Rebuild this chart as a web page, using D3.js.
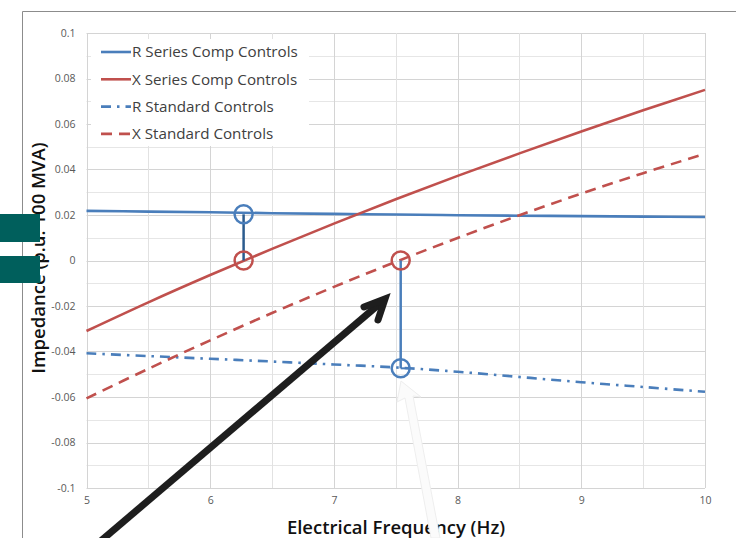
<!DOCTYPE html>
<html><head><meta charset="utf-8">
<script src="https://cdn.jsdelivr.net/npm/d3@7"></script>
<style>html,body{margin:0;padding:0;background:#fff;}svg{display:block;font-family:"Open Sans",sans-serif;}</style>
</head><body>
<svg id="chart" width="736" height="538"></svg>
<script>
const freq = [5, 5.5, 6, 6.5, 7, 7.5, 8, 8.5, 9, 9.5, 10];
const rSeriesComp = [0.0218, 0.0215, 0.0212, 0.0208, 0.0205, 0.0202, 0.0199, 0.0197, 0.0195, 0.0193, 0.0191];
const xSeriesComp = [-0.031, -0.0184, -0.0064, 0.0051, 0.0162, 0.0269, 0.0372, 0.0471, 0.0567, 0.066, 0.075];
const rStandard = [-0.0408, -0.042, -0.0432, -0.0444, -0.0457, -0.047, -0.0489, -0.0512, -0.0535, -0.0556, -0.0577];
const xStandard = [-0.0606, -0.0476, -0.0351, -0.0231, -0.0116, -0.0006, 0.0099, 0.0199, 0.0294, 0.0384, 0.0469];
const seriesNames = ["R Series Comp Controls", "X Series Comp Controls", "R Standard Controls", "X Standard Controls"];
const xTicks = [5, 6, 7, 8, 9, 10];
const yTicks = [-0.1, -0.08, -0.06, -0.04, -0.02, 0, 0.02, 0.04, 0.06, 0.08, 0.1];
const yTickLabels = ["-0.1", "-0.08", "-0.06", "-0.04", "-0.02", "0", "0.02", "0.04", "0.06", "0.08", "0.1"];
// resonance markers: [frequency, R value, X value]
const seriesCompPoint = [6.27, 0.0203, 0];
const standardPoint = [7.54, -0.0474, 0];
const xTitle = "Electrical Frequency (Hz)";
const yTitle = "Impedance (p.u. 100 MVA)";

const svg = d3.select("#chart");
const x = d3.scaleLinear().domain([5, 10]).range([86.5, 705]);
const y = d3.scaleLinear().domain([-0.1, 0.1]).range([488, 33]);
const BLUE = "#4a7ebb", RED = "#c0504d";

// outer frame
svg.append("path").attr("d", "M22.5,538V11.5H736").attr("fill", "none").attr("stroke", "#8c8c8c").attr("stroke-width", 1);

// grid
const g = svg.append("g");
const minorY = d3.range(-0.1, 0.1001, 0.01);
g.selectAll(".gy").data(minorY).join("line")
  .attr("x1", x(5)).attr("x2", x(10))
  .attr("y1", d => Math.round(y(d)) + 0.5).attr("y2", d => Math.round(y(d)) + 0.5)
  .attr("stroke", d => Math.abs(Math.round(d * 100)) % 2 === 0 ? "#d4d4d4" : "#e6e6e6");
const minorX = d3.range(5, 10.001, 0.5);
g.selectAll(".gx").data(minorX).join("line")
  .attr("y1", y(-0.1)).attr("y2", y(0.1))
  .attr("x1", d => Math.round(x(d)) + 0.5).attr("x2", d => Math.round(x(d)) + 0.5)
  .attr("stroke", d => d % 1 === 0 ? "#d4d4d4" : "#e2e2e2");

// axes labels
const yAxis = d3.axisLeft(y).tickValues(yTicks).tickFormat((d, i) => yTickLabels[i]).tickSize(0).tickPadding(11);
const ya = svg.append("g").attr("transform", `translate(${x(5)},0)`).call(yAxis);
ya.select(".domain").remove();
ya.selectAll("text").attr("fill", "#595959").style("font-size", "10.5px").style("font-family", "Open Sans");
const xAxis = d3.axisBottom(x).tickValues(xTicks).tickFormat(d3.format("d")).tickSize(0).tickPadding(9);
const xa = svg.append("g").attr("transform", `translate(0,${y(-0.1)})`).call(xAxis);
xa.select(".domain").remove();
xa.selectAll("text").attr("fill", "#595959").style("font-size", "10.5px").style("font-family", "Open Sans");

// series
const line = d3.line().x(d => x(d[0])).y(d => y(d[1])).curve(d3.curveCatmullRom.alpha(0.5));
const series = [
  {vals: rSeriesComp, color: BLUE, dash: null},
  {vals: xSeriesComp, color: RED, dash: null},
  {vals: rStandard, color: BLUE, dash: "10,6,2.5,6"},
  {vals: xStandard, color: RED, dash: "11,7"}
];
series.forEach(s => {
  svg.append("path").datum(freq.map((f, i) => [f, s.vals[i]]))
    .attr("d", line).attr("fill", "none").attr("stroke", s.color)
    .attr("stroke-width", 2.6).attr("stroke-dasharray", s.dash);
});

// legend
const lg = svg.append("g");
lg.append("rect").attr("x", 91).attr("y", 39).attr("width", 218).attr("height", 107).attr("fill", "#fff");
series.forEach((s, i) => {
  const yy = 52 + i * 27.3;
  lg.append("line").attr("x1", 101).attr("x2", 131).attr("y1", yy).attr("y2", yy)
    .attr("stroke", s.color).attr("stroke-width", 2.6).attr("stroke-dasharray", s.dash);
  lg.append("text").attr("x", 132).attr("y", yy).attr("dy", "0.35em")
    .attr("fill", "#404040").style("font-size", "15.2px").text(seriesNames[i]);
});

// resonance markers
function marker(p, connColor) {
  const cx = x(p[0]);
  svg.append("line").attr("x1", cx).attr("x2", cx).attr("y1", y(p[1])).attr("y2", y(p[2]))
    .attr("stroke", connColor).attr("stroke-width", 2.5);
  svg.append("circle").attr("cx", cx).attr("cy", y(p[1])).attr("r", 9)
    .attr("fill", "none").attr("stroke", BLUE).attr("stroke-width", 2.5);
  svg.append("circle").attr("cx", cx).attr("cy", y(p[2])).attr("r", 9)
    .attr("fill", "none").attr("stroke", RED).attr("stroke-width", 2.5);
}
marker(seriesCompPoint, "#2b5b8e");
marker(standardPoint, BLUE);
svg.append("line").attr("x1", x(standardPoint[0])).attr("x2", x(standardPoint[0]) + 8)
  .attr("y1", y(standardPoint[1])).attr("y2", y(standardPoint[1]))
  .attr("stroke", BLUE).attr("stroke-width", 2);

// axis titles
svg.append("text").attr("transform", "translate(45,258) rotate(-90)")
  .attr("text-anchor", "middle").attr("fill", "#111")
  .style("font-size", "18.5px").style("font-weight", 600).text(yTitle);
svg.append("text").attr("x", 396).attr("y", 534).attr("text-anchor", "middle").attr("fill", "#111")
  .style("font-size", "18.5px").style("font-weight", 600).text(xTitle);

// teal blocks
svg.append("rect").attr("x", 0).attr("y", 214).attr("width", 40).attr("height", 28).attr("fill", "#005f5c");
svg.append("rect").attr("x", 0).attr("y", 256).attr("width", 40).attr("height", 27).attr("fill", "#005f5c");

// white arrow
const wa = svg.append("g");
wa.append("path").attr("d", "M401,381 L421,397 L413,396 L440,538 L431,538 L405,398 L397,402 Z")
  .attr("fill", "#fbfbfb").attr("stroke", "#eeeeee").attr("stroke-width", 1);

// black arrow
svg.append("line").attr("x1", 96).attr("y1", 545).attr("x2", 384).attr("y2", 300)
  .attr("stroke", "#1e1e1e").attr("stroke-width", 7);
svg.append("path").attr("d", "M364,307 L385,299 L378,320")
  .attr("fill", "none").attr("stroke", "#1e1e1e").attr("stroke-width", 7)
  .attr("stroke-linejoin", "miter").attr("stroke-linecap", "round");
</script>
</body></html>
